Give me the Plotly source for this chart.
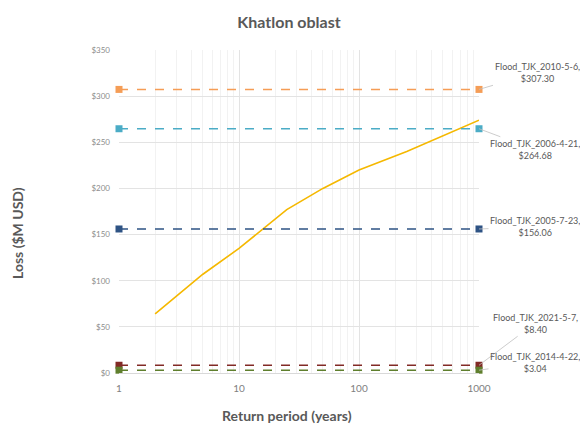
import plotly.graph_objects as go

# Data
rp = [2, 5, 10, 25, 50, 100, 250, 500, 1000]
loss = [64, 107, 135, 177, 200, 220, 240, 257, 274]

event_names = ["Flood_TJK_2010-5-6", "Flood_TJK_2006-4-21", "Flood_TJK_2005-7-23",
               "Flood_TJK_2021-5-7", "Flood_TJK_2014-4-22"]
event_losses = [307.30, 264.68, 156.06, 8.40, 3.04]
event_colors = ["#F59D56", "#4BACC6", "#2E5384", "#822A26", "#5F7F2D"]
event_x = [1, 1000]

# label offsets (pixels) relative to the right marker
label_ax = [58, 56, 56, 56, 56]
label_ay = [-17, 21, -2, -42, -8]

GRAY = "#595959"
FONT = "Lato, 'Open Sans', sans-serif"

# page offset from default body margin
OFF = 8
W, H = 588 - OFF, 429 - OFF
PL, PR, PT, PB = 119 - OFF, 479 - OFF, 50 - OFF, 373 - OFF

fig = go.Figure()

fig.add_trace(go.Scatter(x=rp, y=loss, mode="lines",
                         line=dict(color="#F5B800", width=1.6),
                         showlegend=False, hoverinfo="skip"))

for name, val, col in zip(event_names, event_losses, event_colors):
    fig.add_trace(go.Scatter(x=event_x, y=[val, val], mode="lines+markers",
                             line=dict(color=col, width=1.5, dash="dash"),
                             marker=dict(symbol="square", size=7, color=col),
                             cliponaxis=False,
                             showlegend=False, name=name))

for name, val, ax, ay in zip(event_names, event_losses, label_ax, label_ay):
    fig.add_annotation(x=3, y=val, xref="x", yref="y",
                       text=f"{name},<br>${val:.2f}", showarrow=True,
                       arrowhead=0, arrowwidth=0.8, arrowcolor="#BFBFBF",
                       ax=ax, ay=ay, align="center",
                       font=dict(size=9, color=GRAY, family=FONT))

pw, ph = PR - PL, PB - PT
fig.add_annotation(text="<b>Loss ($M USD)</b>", textangle=-90,
                   xref="paper", yref="paper", x=(17 - OFF - PL) / pw, y=(PB - (233 - OFF)) / ph,
                   xanchor="center", yanchor="middle", showarrow=False,
                   font=dict(size=14, color=GRAY, family=FONT))
fig.add_annotation(text="<b>Return period (years)</b>",
                   xref="paper", yref="paper", x=(287 - OFF - PL) / pw, y=(PB - (415 - OFF)) / ph,
                   xanchor="center", yanchor="middle", showarrow=False,
                   font=dict(size=14, color=GRAY, family=FONT))

fig.update_layout(
    width=W, height=H,
    margin=dict(l=PL, r=W - PR, t=PT, b=H - PB),
    paper_bgcolor="white", plot_bgcolor="white",
    title=dict(text="<b>Khatlon oblast</b>", x=(289 - OFF) / W, xanchor="center",
               y=1 - (22 - OFF) / H, yanchor="middle", yref="container",
               font=dict(size=16, color=GRAY, family=FONT)),
    showlegend=False,
)

fig.update_xaxes(type="log", range=[0, 3], dtick=1,
                 showgrid=True, gridcolor="#E3E3E3", gridwidth=1,
                 minor=dict(showgrid=True, gridcolor="#F2F2F2", dtick="D1", ticks=""),
                 showline=True, linecolor="#D9D9D9", linewidth=1,
                 zeroline=False, ticks="", ticklabelstandoff=6,
                 tickfont=dict(size=10, color="#7F7F7F", family=FONT))
fig.update_yaxes(range=[0, 350], dtick=50, tickprefix="$",
                 showgrid=True, gridcolor="#E3E3E3", gridwidth=1,
                 showline=False, zeroline=False, ticks="", ticklabelstandoff=8,
                 tickfont=dict(size=8, color="#8C8C8C", family=FONT))

fig.write_html("out.html")
